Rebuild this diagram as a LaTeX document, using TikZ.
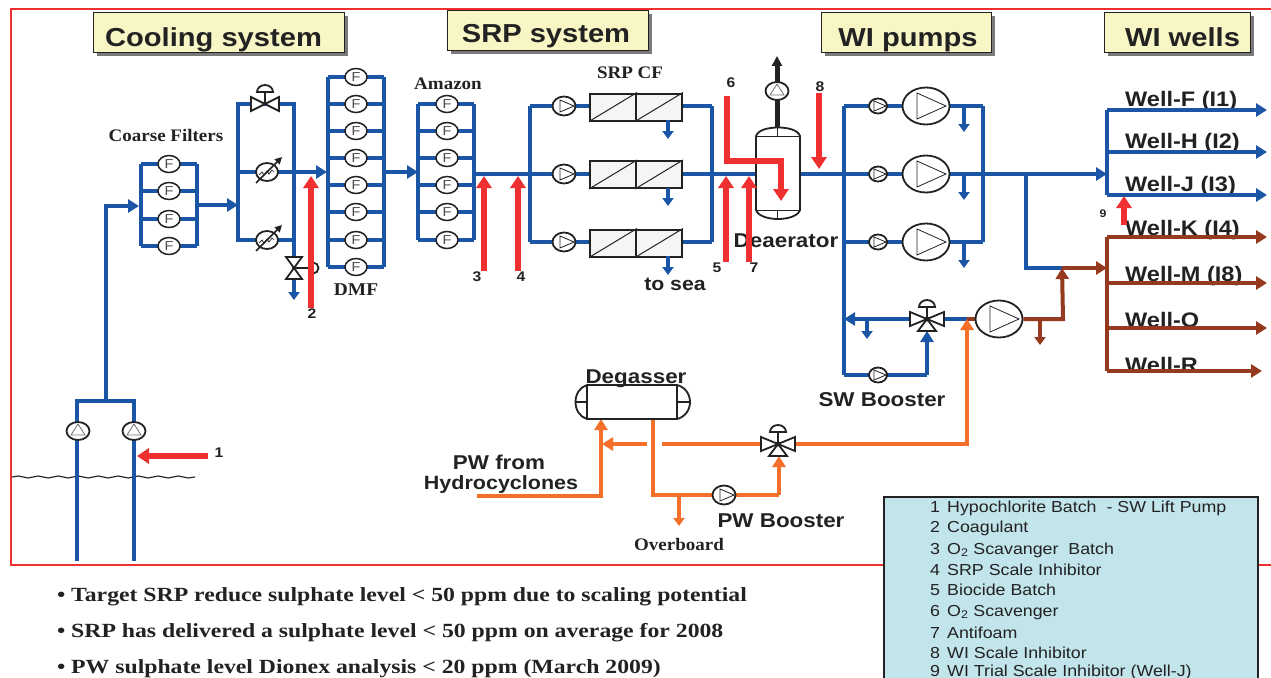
\documentclass[tikz,border=0pt]{standalone}
\usepackage{fontspec}
\setmainfont[FakeStretch=1.08]{Liberation Serif}
\setsansfont[FakeStretch=1.12]{Liberation Sans}
\newfontfamily\bulfont[FakeStretch=1.18]{Liberation Serif}
\usetikzlibrary{arrows.meta,shapes.geometric,decorations.pathmorphing,calc}
\definecolor{pipeblue}{HTML}{1B55A6}
\definecolor{pipebrown}{HTML}{953A1E}
\definecolor{pipeorange}{HTML}{F4702A}
\definecolor{chemred}{HTML}{EE3030}
\definecolor{titlefill}{HTML}{F8F6C4}
\definecolor{legendfill}{HTML}{C2E4EB}
\definecolor{inkdark}{HTML}{222222}
\tikzset{
  pipe/.style={line width=4pt,color=pipeblue,line cap=butt,line join=miter},
  brown/.style={pipe,color=pipebrown},
  orange/.style={pipe,color=pipeorange},
  head/.style={-{Triangle[length=11pt,width=13pt]}},
  drain/.style={-{Triangle[length=8pt,width=11pt]}},
  chem/.style={line width=6pt,color=chemred,-{Triangle[length=12pt,width=15pt]}},
  filt/.style={ellipse,draw=inkdark,line width=1.5pt,fill=white,minimum width=22pt,minimum height=17pt,inner sep=0pt,font=\sffamily\fontsize{13}{13}\selectfont,text=black!70},
  symb/.style={draw=inkdark,line width=1pt,fill=white},
  thickk/.style={draw=inkdark,line width=1.8pt,fill=white},
  titlebox/.style={draw=inkdark,line width=1pt,fill=titlefill,minimum height=40pt,inner sep=0pt},
  titletext/.style={anchor=base,inner sep=0pt,text=inkdark,font=\sffamily\bfseries\fontsize{26}{26}\selectfont},
  wlabel/.style={anchor=west,inner sep=0pt,text=inkdark,font=\sffamily\bfseries\fontsize{21}{21}\selectfont},
  blabel/.style={inner sep=0pt,text=inkdark,font=\sffamily\bfseries\fontsize{20}{20}\selectfont},
  slabel/.style={inner sep=0pt,text=inkdark,font=\rmfamily\bfseries\fontsize{17.6}{17.6}\selectfont},
  num/.style={inner sep=0pt,text=inkdark,font=\sffamily\bfseries\fontsize{14}{14}\selectfont},
  legendtxt/.style={anchor=base west,inner sep=0pt,text=inkdark,font=\sffamily\fontsize{15.9}{15.9}\selectfont},
  bullet/.style={anchor=base west,inner sep=0pt,text=inkdark,font=\bulfont\bfseries\fontsize{20.1}{20.1}\selectfont},
}
% bank of filters: prefix, x left, x filter, x right, first y, last y, y list
\newcommand{\fbank}[7]{%
  \coordinate (#1lt) at (#2,#5); \coordinate (#1lb) at (#2,#6);
  \coordinate (#1rt) at (#4,#5); \coordinate (#1rb) at (#4,#6);
  \draw[pipe,line cap=square] (#1lt) -- (#1lb);
  \draw[pipe,line cap=square] (#1rt) -- (#1rb);
  \foreach \yy [count=\i] in {#7} {
    \coordinate (#1l\i) at (#2,\yy); \coordinate (#1r\i) at (#4,\yy);
    \draw[pipe] (#1l\i) -- (#1r\i);
    \node[filt] (#1f\i) at (#3,\yy) {F};
  }}
% pump pointing right: name,x,y,w,h,tri back,tri tip,tri half height
\newcommand{\pumpr}[8]{%
  \node[ellipse,draw=inkdark,line width=1.8pt,fill=white,minimum width=#4pt,minimum height=#5pt,inner sep=0pt] (#1) at (#2,#3) {};
  \draw[draw=inkdark,line width=.8pt,fill=white] ($(#1.center)+(-#6,-#8)$) -- ($(#1.center)+(#7,0)$) -- ($(#1.center)+(-#6,#8)$) -- cycle;}
% pump pointing up
\newcommand{\pumpu}[3]{%
  \node[ellipse,draw=inkdark,line width=1.8pt,fill=white,minimum width=23pt,minimum height=18pt,inner sep=0pt] (#1) at (#2,#3) {};
  \draw[draw=black!55,line width=.8pt,fill=white] ($(#1.center)+(-7,4)$) -- ($(#1.center)+(0,-7)$) -- ($(#1.center)+(7,4)$) -- cycle;}
% heat exchanger
\newcommand{\hx}[3]{%
  \node[ellipse,draw=inkdark,line width=1.8pt,fill=white,minimum width=22pt,minimum height=18pt,inner sep=0pt] (#1) at (#2,#3) {};
  \draw[inkdark,line width=.7pt] ($(#1.center)+(-8,3)$) -- ++(3,-3) -- ++(2,3) -- ++(3,-4) -- ++(2,3) -- ++(3,-4) -- ++(2,2);
  \draw[inkdark,line width=1.6pt,-{Triangle[length=7pt,width=7pt]}] ($(#1.center)+(-11,11)$) -- ($(#1.center)+(15,-15)$);}
% control valve (horizontal bowtie with actuator)
\newcommand{\cvalve}[4]{%
  \coordinate (#1) at (#2,#3);
  \draw[thickk] ($(#1)+(-#4,-7)$) -- ($(#1)+(#4,7)$) -- ($(#1)+(#4,-7)$) -- ($(#1)+(-#4,7)$) -- cycle;
  \draw[inkdark,line width=1.8pt] (#1) -- ++(0,-12);
  \draw[thickk] ($(#1)+(-8,-12)$) arc[start angle=180,end angle=0,x radius=8,y radius=-7] -- cycle;}
% three way valve
\newcommand{\tvalve}[3]{%
  \coordinate (#1) at (#2,#3);
  \draw[thickk] (#1) -- ++(-17,-7) -- ++(0,14) -- cycle;
  \draw[thickk] (#1) -- ++(17,-7) -- ++(0,14) -- cycle;
  \draw[thickk] (#1) -- ++(-9,12) -- ++(18,0) -- cycle;
  \draw[inkdark,line width=1.8pt] (#1) -- ++(0,-12);
  \draw[thickk] ($(#1)+(-8,-12)$) arc[start angle=180,end angle=0,x radius=8,y radius=-7] -- cycle;
  \fill[inkdark] (#1) circle[radius=2.5];}
% membrane unit
\newcommand{\cfunit}[3]{%
  \foreach \k/\xx in {a/589,b/635}{
    \node[draw=inkdark,line width=2pt,fill=white!96!black,minimum width=46pt,minimum height=#3pt,inner sep=0pt,anchor=north west] (#1\k) at (\xx,#2) {};
    \draw[inkdark,line width=1pt] (#1\k.south west) -- (#1\k.north east);
  }}
\begin{document}
\begin{tikzpicture}[x=1pt,y=-1pt]
\useasboundingbox (0,0) rectangle (1271,677);
\fill[white] (0,0) rectangle (1271,677);
% frame (open at the right edge)
\coordinate (frameTR) at (1271,9.5); \coordinate (frameTL) at (10.5,9.5);
\coordinate (frameBL) at (10.5,565); \coordinate (frameBR) at (1271,565);
\draw[chemred,line width=2pt] (frameTR) -- (frameTL) -- (frameBL) -- (frameBR);

% title boxes
\foreach \nm/\xa/\xb/\ya/\xc/\yb/\lbl in {tc/93/344/12/213.5/47/Cooling system,ts/447/648/10/546/43/SRP system,tp/821/991/12/908/47/WI pumps,tw/1104/1250/12/1182.5/46.5/WI wells}{
  \fill[black!52] (\xa+4,\ya+4) rectangle (\xb+4,\ya+44);
  \node[titlebox,minimum width={\xb-\xa},anchor=north west] (\nm) at (\xa,\ya) {};
  \node[titletext] (\nm t) at (\xc,\yb) {\lbl};
}

% sea water intake
\coordinate (lp1b) at (77,561); \coordinate (lp2b) at (134,561);
\coordinate (lp1t) at (77,401); \coordinate (lp2t) at (134,401);
\coordinate (lift) at (106,401); \coordinate (liftT) at (106,206);
\draw[inkdark,line width=1.1pt,decorate,decoration={snake,amplitude=1pt,segment length=20pt}] (12,477) -- (195,477);
\draw[pipe] (lp1b) -- (lp1t) -- (lp2t) -- (lp2b);
\draw[pipe,head] (lift) -- (liftT) -- (139,206);
\pumpu{lp1}{78}{431}
\pumpu{lp2}{134}{431}
\node[num] (n1) at (219,453) {1};
\coordinate (c1s) at (208,456); \coordinate (c1e) at (137,456);

% coarse filters
\fbank{c}{141}{169}{197}{164}{246}{164,191,219,246}
\node[slabel] (lcf) at (166,135) {Coarse Filters};
\coordinate (cout) at (197,205); \coordinate (hxin) at (238,205);
\draw[pipe,head] (cout) -- (hxin);

% cooling exchangers
\coordinate (hl1) at (238,104); \coordinate (hr1) at (294,104);
\coordinate (hl2) at (238,172); \coordinate (hr2) at (294,172);
\coordinate (hl3) at (238,240); \coordinate (hr3) at (294,240);
\coordinate (hbot) at (294,300);
\draw[pipe] (hl2) -- (hl1) -- (hr1) -- (294,280);
\draw[pipe,drain] (294,280) -- (hbot);
\draw[pipe] (hr3) -- (hl3) -- (hl2) -- (hr2);
\coordinate (dmfin) at (327,172);
\draw[pipe,head] (hr2) -- (dmfin);
\cvalve{cv1}{265}{104}{14}
\hx{hx1}{267}{172}
\hx{hx2}{267}{240}
% dump valve
\coordinate (dv) at (294,268);
\draw[thickk] ($(dv)+(-8,-11)$) -- ($(dv)+(8,-11)$) -- ($(dv)+(-8,11)$) -- ($(dv)+(8,11)$) -- cycle;
\draw[inkdark,line width=1.2pt] (dv) -- ++(18,0);
\draw[inkdark,line width=1.8pt] (313,262.5) arc[start angle=-90,end angle=90,radius=5.5] ;

% DMF
\fbank{d}{328}{356}{384}{77}{267}{77,104,131,158,185,212,240,267}
\node[slabel,font=\rmfamily\bfseries\fontsize{18}{18}\selectfont] (ldmf) at (356,290) {DMF};
\coordinate (dout) at (384,172); \coordinate (amin) at (418,172);
\draw[pipe,head] (dout) -- (amin);

% Amazon
\fbank{a}{418}{447}{474}{104}{240}{104,131,158,185,212,240}
\node[slabel] (lam) at (448,84) {Amazon};

% main header through SRP
\coordinate (aout) at (474,174); \coordinate (sl2) at (530,174);
\coordinate (sl1) at (530,106); \coordinate (sl3) at (530,242);
\coordinate (sr1) at (712,106); \coordinate (sr2) at (712,174); \coordinate (sr3) at (712,242);
\draw[pipe] (aout) -- (sl2);
\draw[pipe,line cap=square] (sl1) -- (sl3);
\draw[pipe,line cap=square] (sr1) -- (sr3);
\draw[pipe] (sl1) -- (sr1); \draw[pipe] (sl2) -- (sr2); \draw[pipe] (sl3) -- (sr3);
\cfunit{cfa}{92.5}{27}
\cfunit{cfb}{160}{27}
\cfunit{cfc}{228.5}{27}
\draw[pipe,drain] (668,120) -- (668,139);
\draw[pipe,drain] (668,188) -- (668,206);
\draw[pipe,drain] (668,256) -- (668,275);
\pumpr{sp1}{564}{106}{23}{19}{4}{10}{6}
\pumpr{sp2}{564}{174}{23}{19}{4}{10}{6}
\pumpr{sp3}{564}{242}{23}{19}{4}{10}{6}
\node[slabel] (lcfx) at (630,73) {SRP CF};

% to deaerator and WI pumps
\coordinate (wl1) at (844,106); \coordinate (wl2) at (844,174); \coordinate (wl3) at (844,242); \coordinate (wl4) at (844,319); \coordinate (wl5) at (844,375);
\coordinate (wr1) at (983,106); \coordinate (wr2) at (983,174); \coordinate (wr3) at (983,242);
\draw[pipe] (sr2) -- (wl2);
\draw[pipe,line cap=square] (wl1) -- (wl5);
\draw[pipe,line cap=square] (wr1) -- (wr3);
\draw[pipe] (wl1) -- (wr1); \draw[pipe] (wl2) -- (wr2); \draw[pipe] (wl3) -- (wr3);
\foreach \yy in {106,174,242}{ \draw[pipe,drain] (964,\yy) -- (964,\yy+26); }

% deaerator
\coordinate (dea) at (778,173);
\draw[inkdark,line width=5pt,-{Triangle[length=10pt,width=10pt]}] (777,128) -- (777,56);
\pumpu{dp}{777}{91}
\draw[thickk] (756,136) .. controls (758,130) and (768,127.5) .. (778,127.5) .. controls (788,127.5) and (798,130) .. (800,136) -- (800,210) .. controls (798,216) and (788,219) .. (778,219) .. controls (768,219) and (758,216) .. (756,210) -- cycle;
\draw[inkdark,line width=1pt] (756,136) -- (800,136) (756,210) -- (800,210) (777,127.5) -- (777,136) (777,210) -- (777,219);
\node[blabel] (ldea) at (786,241) {Deaerator};

% small and large WI pumps
\foreach \yy/\i in {106/1,174/2,242/3}{
  \pumpr{wp\i}{878}{\yy}{18}{15}{4}{8}{5}
  \pumpr{wg\i}{926}{\yy}{47}{37}{9}{20}{13}
}
% WI header
\coordinate (hdr) at (1107,174); \coordinate (bra) at (1026,174); \coordinate (brb) at (1026,268); \coordinate (brc) at (1062,268); \coordinate (brd) at (1107,268);
\draw[pipe,head] (wr2) -- (hdr);
\draw[pipe] (bra) -- (brb) -- (brc);

% SW booster and valves
\coordinate (vsw) at (927,319); \coordinate (bp) at (999,319);
\coordinate (sw5) at (927,375);
\coordinate (orj) at (967,319);
\draw[pipe,head] (vsw) -- (wl4);
\draw[pipe,drain] (867,319) -- (867,339);
\draw[pipe] (wl5) -- (sw5);
\draw[pipe,head] (sw5) -- (927,331);
\draw[pipe] (vsw) -- (orj);
\draw[brown] (orj) -- (bp);
\tvalve{vswx}{927}{319}
\pumpr{swb}{878}{375}{18}{15}{4}{8}{5}
\pumpr{bpx}{999}{319}{47}{37}{9}{20}{13}
\node[blabel] (lsw) at (882,400) {SW Booster};
\coordinate (bpo) at (1063,319);
\draw[brown,head] (bpx.east) -- (bpo) -- (brc);
\draw[brown,drain] (1040,319) -- (1040,345);
\draw[brown,head] (brc) -- (brd);

% well labels (drawn under the well lines)
\foreach \nm/\yy/\lbl in {lf/101/Well-F (I1),lh/143/Well-H (I2),lj/186/Well-J (I3),lk/230/Well-K (I4),lm/276/Well-M (I8),lo/320/Well-O,lr/365/Well-R}{
  \node[wlabel] (\nm) at (1125,\yy) {\lbl};
}
% wells
\coordinate (mb1) at (1107,110); \coordinate (mb2) at (1107,152); \coordinate (mb3) at (1107,195);
\draw[pipe,line cap=square] (mb1) -- (mb3);
\foreach \nm/\yy in {f/110,h/152,j/195}{ \coordinate (w\nm) at (1267,\yy); \draw[pipe,head] (1107,\yy) -- (w\nm); }
\draw[brown,line cap=square] (1107,237) -- (1107,371);
\foreach \nm/\yy/\xe in {k/237/1267,m/283/1267,o/328/1267,r/371/1262}{ \coordinate (w\nm) at (\xe,\yy); \draw[brown,head] (1107,\yy) -- (w\nm); }

% chemical injection
\draw[chem] (c1s) -- (c1e);
\coordinate (c2s) at (311,308); \coordinate (c2e) at (311,176);
\draw[chem] (c2s) -- (c2e); \node[num] (n2) at (312,314) {2};
\coordinate (c3s) at (484,271); \coordinate (c3e) at (484,176);
\draw[chem] (c3s) -- (c3e); \node[num] (n3) at (477,277) {3};
\coordinate (c4s) at (518,271); \coordinate (c4e) at (518,176);
\draw[chem] (c4s) -- (c4e); \node[num] (n4) at (521,277) {4};
\coordinate (c5s) at (726,262); \coordinate (c5e) at (726,176);
\draw[chem] (c5s) -- (c5e); \node[num] (n5) at (717,268) {5};
\coordinate (c6s) at (727,96); \coordinate (c6m) at (727,161); \coordinate (c6n) at (781,161); \coordinate (c6e) at (781,201);
\draw[chem,line join=miter] (c6s) -- (c6m) -- (c6n) -- (c6e); \node[num] (n6) at (731,83) {6};
\coordinate (c7s) at (749,262); \coordinate (c7e) at (749,176);
\draw[chem] (c7s) -- (c7e); \node[num] (n7) at (754,268) {7};
\coordinate (c8s) at (819,93); \coordinate (c8e) at (819,169);
\draw[chem] (c8s) -- (c8e); \node[num] (n8) at (820,87) {8};
\coordinate (c9s) at (1124,225); \coordinate (c9e) at (1124,196);
\draw[chem] (c9s) -- (c9e); \node[num,font=\sffamily\bfseries\fontsize{11}{11}\selectfont] (n9) at (1103,214) {9};

\node[blabel,font=\sffamily\bfseries\fontsize{19}{19}\selectfont] (ltosea) at (675,284) {to sea};

% degasser and produced water
\coordinate (pws) at (477,496); \coordinate (pwc) at (601,496); \coordinate (pwt) at (601,419);
\coordinate (dgo) at (653,419); \coordinate (dgb) at (653,495); \coordinate (vpwb) at (779,495);
\coordinate (vpw) at (778,444); \coordinate (ovb) at (679,495); \coordinate (ove) at (679,526);
\coordinate (orc) at (967,444);
\draw[orange,head] (pws) -- (pwc) -- (pwt);
\draw[orange,head] (647,444) -- (602,444);
\draw[orange] (662,444) -- (vpw);
\draw[orange] (dgo) -- (dgb) -- (vpwb);
\draw[orange,head] (vpwb) -- (779,456);
\draw[orange,drain] (ovb) -- (ove);
\draw[orange,head] (vpw) -- (orc) -- (orj);
\tvalve{vpwx}{778}{444}
\pumpr{pwb}{724}{495}{23}{19}{4}{10}{6}
\draw[inkdark,line width=1.8pt] (587,385) -- (677,385) .. controls (685,387) and (690,394) .. (690,402) .. controls (690,410) and (685,417) .. (677,419) -- (587,419) .. controls (580,417) and (575.5,410) .. (575.5,402) .. controls (575.5,394) and (580,387) .. (587,385) -- cycle;
\draw[inkdark,line width=1.1pt] (587,385) -- (587,419) (677,385) -- (677,419) (575.5,402) -- (587,402) (677,402) -- (690,402);
\node[blabel] (ldeg) at (636,379) {Degasser};
\node[blabel] (lpw1) at (499,462) {PW from};
\node[blabel,font=\sffamily\bfseries\fontsize{19.2}{19.2}\selectfont] (lpw2) at (501,485) {Hydrocyclones};
\node[blabel] (lpwb) at (781,521) {PW Booster};
\node[slabel] (lov) at (679,544) {Overboard};

% legend
\node[draw=inkdark,line width=2.4pt,fill=legendfill,minimum width=374pt,minimum height=200pt,inner sep=0pt,anchor=north west] (leg) at (883,496) {};
\foreach \yy/\n/\t in {512/1/Hypochlorite Batch\ \ - SW Lift Pump,532/2/Coagulant,554/3/O\textsubscript{2} Scavanger\ \ Batch,575/4/SRP Scale Inhibitor,595/5/Biocide Batch,616/6/O\textsubscript{2} Scavenger,638/7/Antifoam,658/8/WI Scale Inhibitor,676/9/WI Trial Scale Inhibitor (Well-J)}{
  \node[legendtxt] at (930,\yy) {\n};
  \node[legendtxt] at (947,\yy) {\t};
}
% bullets
\foreach \yy/\t in {601/Target SRP reduce sulphate level < 50 ppm due to scaling potential,637/SRP has delivered a sulphate level < 50 ppm on average for 2008,673/PW sulphate level Dionex analysis < 20 ppm (March 2009)}{
  \node[bullet] at (57,\yy) {\textbullet};
  \node[bullet] at (71,\yy) {\t};
}
\end{tikzpicture}
\end{document}
